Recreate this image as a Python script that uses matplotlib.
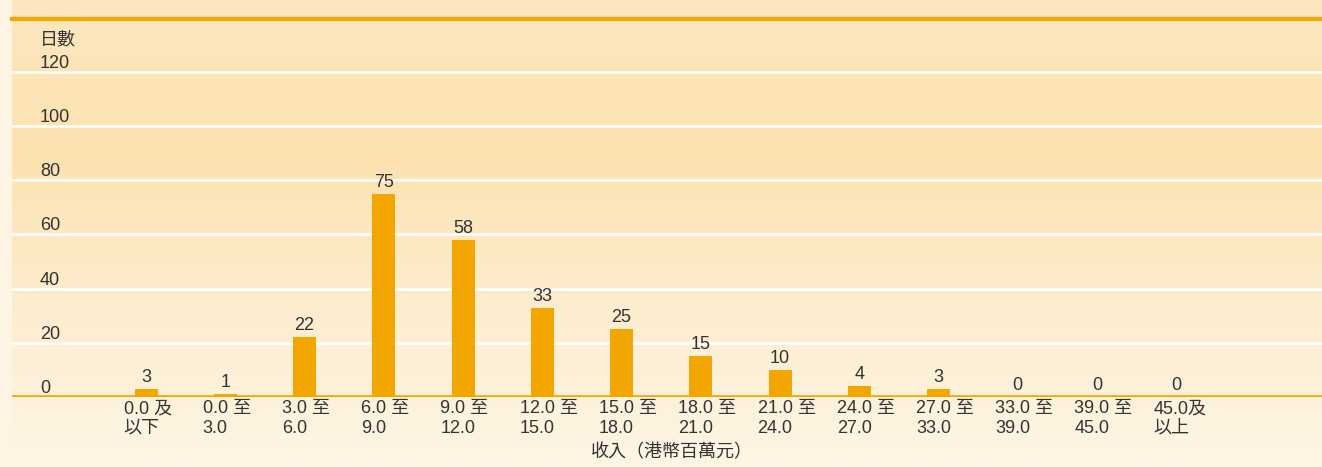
import numpy as np
import matplotlib
matplotlib.use("Agg")
import matplotlib.pyplot as plt
from matplotlib.colors import LinearSegmentedColormap
from matplotlib import transforms

plt.rcParams['font.family'] = ['Liberation Sans', 'Noto Sans CJK TC', 'DejaVu Sans']

# Number of days by revenue band (HK$ million)
categories = ["0.0 及\n以下", "0.0 至\n3.0", "3.0 至\n6.0", "6.0 至\n9.0", "9.0 至\n12.0",
              "12.0 至\n15.0", "15.0 至\n18.0", "18.0 至\n21.0", "21.0 至\n24.0",
              "24.0 至\n27.0", "27.0 至\n33.0", "33.0 至\n39.0", "39.0 至\n45.0", "45.0及\n以上"]
days = [3, 1, 22, 75, 58, 33, 25, 15, 10, 4, 3, 0, 0, 0]
y_ticks = [0, 20, 40, 60, 80, 100, 120]
y_title = "日數"
x_title = "收入（港幣百萬元）"

W, H = 1322, 467
fig = plt.figure(figsize=(W / 100, H / 100), dpi=100)

# background: pale strip on the left, warm vertical gradient on the panel
bg = fig.add_axes([0, 0, 1, 1])
bg.set_axis_off()
bg.set_xlim(0, W)
bg.set_ylim(H, 0)
bg.add_patch(plt.Rectangle((0, 0), 12, H, color="#FDF4E4", zorder=0))
cmap = LinearSegmentedColormap.from_list("warm", ["#FDE7BF", "#FCE2B0", "#FDEDCF", "#FEF5E5"])
grad = np.linspace(0, 1, 256).reshape(-1, 1)
bg.imshow(grad, cmap=cmap, aspect="auto", extent=(12, W, H, 0), zorder=1)

# plot area: from the top rule (y=19px) to the baseline (y=397px)
top_px, base_px = 19, 397
px_per_unit = 54.2 / 20
ymax = (base_px - top_px) / px_per_unit
step = 79.25
x0 = 146
xmin = -(x0 - 12) / step
xmax = xmin + (W - 12) / step

ax = fig.add_axes([12 / W, (H - base_px) / H, (W - 12) / W, (base_px - top_px) / H])
ax.set_xlim(xmin, xmax)
ax.set_ylim(0, ymax)
ax.set_facecolor("none")
ax.set_axis_off()

orange = "#F4A600"
for t in y_ticks[1:]:
    ax.axhline(t, color="white", lw=1.8, zorder=1)
ax.axhline(0, color=orange, lw=2.6, zorder=3)
ax.axhline(ymax, color=orange, lw=3, zorder=3, clip_on=False)

x = np.arange(len(categories))
bar_w = 23 / step
ax.bar(x, days, width=bar_w, color=orange, zorder=2)

txt_color = "#333333"
fs = 13
fw = "light"

# value labels
off = transforms.offset_copy(ax.transData, fig=fig, x=0, y=3, units="dots")
for xi, v in zip(x, days):
    ax.text(xi, v, str(v), ha="center", va="bottom", fontsize=fs, color=txt_color,
            fontweight=fw, transform=off, zorder=4)

# category labels below the baseline, left-aligned just left of each bar
lab_tr = transforms.blended_transform_factory(ax.transData, fig.transFigure)
for xi, lab in zip(x, categories):
    ax.text(xi - bar_w / 2 - 11 / step, (H - 400) / H, lab, ha="left", va="top",
            fontsize=fs, color=txt_color, fontweight=fw, linespacing=1.2,
            transform=lab_tr)

# y tick labels sit just above their gridlines
ytr = transforms.blended_transform_factory(fig.transFigure, ax.transData)
for t in y_ticks:
    ax.text(40 / W, t, str(t), ha="left", va="bottom", fontsize=fs, color=txt_color,
            fontweight=fw, transform=ytr)
ax.text(40 / W, (H - 40) / H, y_title, ha="left", va="center", fontsize=fs,
        color=txt_color, fontweight=fw, transform=fig.transFigure)

fig.text(672 / W, (H - 453) / H, x_title, ha="center", va="center", fontsize=fs,
         color=txt_color, fontweight=fw)

fig.savefig("out.png", dpi=100)
